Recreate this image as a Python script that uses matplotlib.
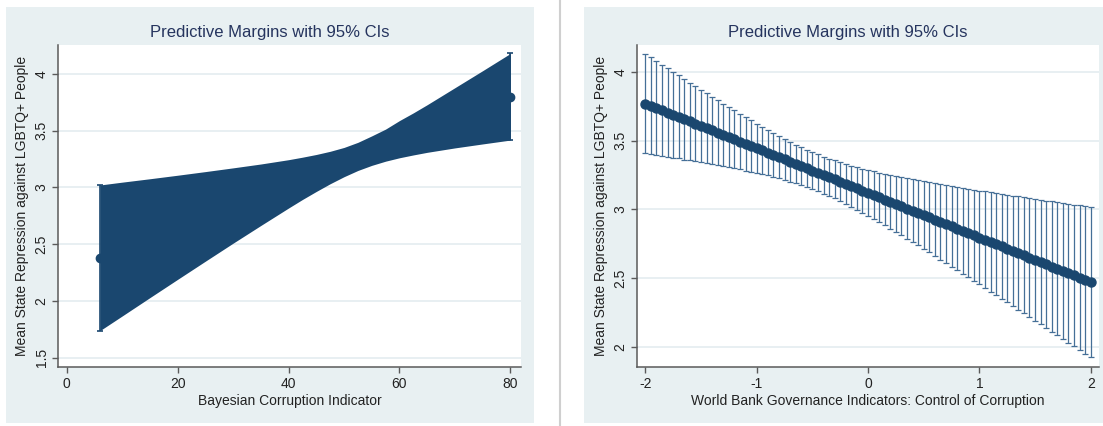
import matplotlib
matplotlib.use("Agg")
import matplotlib.pyplot as plt
from matplotlib.patches import Rectangle
from matplotlib.lines import Line2D

plt.rcParams['font.family'] = ['Liberation Sans', 'DejaVu Sans']
plt.rcParams['axes.unicode_minus'] = False

# ---------------- data ----------------
# Left panel: Bayesian Corruption Indicator
bci_x = [6, 10, 15, 20, 25, 30, 35, 40, 42.5, 45, 47.5, 50, 52.5, 55, 57.5, 60,
         62.5, 65, 70, 75, 80]
bci_margin = [2.380, 2.457, 2.553, 2.649, 2.745, 2.841, 2.936, 3.032, 3.080, 3.128,
              3.176, 3.224, 3.272, 3.320, 3.368, 3.416, 3.464, 3.512, 3.608, 3.704, 3.800]
bci_lower = [1.738, 1.867, 2.029, 2.190, 2.350, 2.509, 2.665, 2.819, 2.894, 2.965,
             3.033, 3.095, 3.150, 3.195, 3.232, 3.262, 3.287, 3.310, 3.349, 3.384, 3.418]
bci_upper = [3.022, 3.047, 3.077, 3.108, 3.140, 3.173, 3.207, 3.245, 3.267, 3.291,
             3.319, 3.353, 3.398, 3.455, 3.515, 3.590, 3.658, 3.730, 3.880, 4.030, 4.182]

# Right panel: WGI Control of Corruption
wgi_x = [-2.00, -1.95, -1.90, -1.85, -1.80, -1.75, -1.70, -1.65, -1.60, -1.55,
         -1.50, -1.45, -1.40, -1.35, -1.30, -1.25, -1.20, -1.15, -1.10, -1.05,
         -1.00, -0.95, -0.90, -0.85, -0.80, -0.75, -0.70, -0.65, -0.60, -0.55,
         -0.50, -0.45, -0.40, -0.35, -0.30, -0.25, -0.20, -0.15, -0.10, -0.05,
         0.00, 0.05, 0.10, 0.15, 0.20, 0.25, 0.30, 0.35, 0.40, 0.45,
         0.50, 0.55, 0.60, 0.65, 0.70, 0.75, 0.80, 0.85, 0.90, 0.95,
         1.00, 1.05, 1.10, 1.15, 1.20, 1.25, 1.30, 1.35, 1.40, 1.45,
         1.50, 1.55, 1.60, 1.65, 1.70, 1.75, 1.80, 1.85, 1.90, 1.95, 2.00]
wgi_margin = [3.770, 3.754, 3.738, 3.721, 3.705, 3.689, 3.673, 3.656, 3.640, 3.624,
              3.608, 3.591, 3.575, 3.559, 3.543, 3.526, 3.510, 3.494, 3.478, 3.461,
              3.445, 3.429, 3.413, 3.396, 3.380, 3.364, 3.348, 3.331, 3.315, 3.299,
              3.283, 3.266, 3.250, 3.234, 3.218, 3.201, 3.185, 3.169, 3.153, 3.136,
              3.120, 3.104, 3.088, 3.071, 3.055, 3.039, 3.023, 3.006, 2.990, 2.974,
              2.958, 2.941, 2.925, 2.909, 2.893, 2.876, 2.860, 2.844, 2.828, 2.811,
              2.795, 2.779, 2.763, 2.746, 2.730, 2.714, 2.698, 2.681, 2.665, 2.649,
              2.633, 2.616, 2.600, 2.584, 2.568, 2.551, 2.535, 2.519, 2.503, 2.486, 2.470]
wgi_halfwidth = [0.362, 0.352, 0.342, 0.332, 0.322, 0.312, 0.302, 0.293, 0.283, 0.274,
                 0.264, 0.255, 0.246, 0.237, 0.228, 0.219, 0.211, 0.203, 0.195, 0.187,
                 0.180, 0.173, 0.166, 0.160, 0.154, 0.149, 0.145, 0.141, 0.138, 0.136,
                 0.135, 0.134, 0.135, 0.136, 0.138, 0.141, 0.145, 0.149, 0.154, 0.160,
                 0.166, 0.173, 0.180, 0.187, 0.195, 0.203, 0.211, 0.219, 0.228, 0.237,
                 0.246, 0.255, 0.264, 0.274, 0.283, 0.293, 0.302, 0.312, 0.322, 0.332,
                 0.342, 0.352, 0.362, 0.372, 0.382, 0.392, 0.402, 0.413, 0.423, 0.433,
                 0.444, 0.454, 0.464, 0.475, 0.485, 0.496, 0.506, 0.516, 0.527, 0.537, 0.548]

left_xticks = [0, 20, 40, 60, 80]
left_yticks = [1.5, 2, 2.5, 3, 3.5, 4]
left_yticklabels = ['1.5', '2', '2.5', '3', '3.5', '4']
right_xticks = [-2, -1, 0, 1, 2]
right_xticklabels = ['-2', '-1', '0', '1', '2']
right_yticks = [2, 2.5, 3, 3.5, 4]
right_yticklabels = ['2', '2.5', '3', '3.5', '4']

title_text = 'Predictive Margins with 95% CIs'
ylabel_text = 'Mean State Repression against LGBTQ+ People'
left_xlabel = 'Bayesian Corruption Indicator'
right_xlabel = 'World Bank Governance Indicators: Control of Corruption'

# ---------------- style ----------------
W, H = 1103, 426
navy = '#1a476f'
bg = '#e8f0f2'
grid_c = '#e6eef1'
spine_c = '#5a5a5a'
text_c = '#222222'
title_c = '#25345e'

fig = plt.figure(figsize=(W / 100, H / 100), dpi=100)
fig.patch.set_facecolor('white')


def fx(px):
    return px / W


def fy(py):
    return 1 - py / H


# graph region backgrounds (drawn beneath the axes)
fig.patches.append(Rectangle((fx(6), fy(423)), fx(534) - fx(6), fy(7.3) - fy(423),
                             transform=fig.transFigure, facecolor=bg, edgecolor='none', zorder=-5))
fig.patches.append(Rectangle((fx(584), fy(423)), fx(1103) - fx(584), fy(7.3) - fy(423),
                             transform=fig.transFigure, facecolor=bg, edgecolor='none', zorder=-5))
fig.lines.append(Line2D([fx(559.5), fx(559.5)], [0, 1], transform=fig.transFigure,
                        color='#cfcfcf', lw=1.5, zorder=-5))


def make_axes(x0, x1):
    ax = fig.add_axes([fx(x0), fy(367.3), fx(x1) - fx(x0), fy(45) - fy(367.3)])
    ax.set_zorder(1)
    ax.set_facecolor('white')
    for s in ('top', 'right'):
        ax.spines[s].set_visible(False)
    for s in ('left', 'bottom'):
        ax.spines[s].set_color(spine_c)
        ax.spines[s].set_linewidth(1.1)
    ax.tick_params(direction='out', length=4, width=1, color=spine_c,
                   labelsize=10, labelcolor=text_c, pad=3)
    ax.yaxis.grid(True, color=grid_c, lw=1.3)
    ax.set_axisbelow(True)
    return ax


# ---------------- left panel ----------------
axL = make_axes(58.3, 521)
axL.fill_between(bci_x, bci_lower, bci_upper, color=navy, lw=0, zorder=2)
ends = [0, len(bci_x) - 1]
axL.errorbar([bci_x[i] for i in ends], [bci_margin[i] for i in ends],
             yerr=[[bci_margin[i] - bci_lower[i] for i in ends],
                   [bci_upper[i] - bci_margin[i] for i in ends]],
             fmt='none', ecolor=navy, elinewidth=1.2, capsize=2.5, capthick=1.2, zorder=3)
axL.plot(bci_x, bci_margin, '-o', color=navy, ms=6, lw=2, zorder=4)
axL.set_xlim(-1.5, 81.9)
axL.set_ylim(1.415, 4.256)
axL.set_xticks(left_xticks)
axL.set_yticks(left_yticks)
axL.set_yticklabels(left_yticklabels, rotation=90, va='center')
axL.set_xlabel(left_xlabel, fontsize=10, color=text_c, labelpad=2)
axL.set_ylabel(ylabel_text, fontsize=10, color=text_c, labelpad=4)

# ---------------- right panel ----------------
axR = make_axes(637, 1099.3)
axR.errorbar(wgi_x, wgi_margin, yerr=wgi_halfwidth, fmt='none', ecolor='#456f97',
             elinewidth=0.9, capsize=2.2, capthick=0.9, zorder=2)
axR.plot(wgi_x, wgi_margin, '-o', color=navy, ms=6.5, lw=2.5, zorder=3)
axR.set_xlim(-2.075, 2.077)
axR.set_ylim(1.85, 4.197)
axR.set_xticks(right_xticks)
axR.set_xticklabels(right_xticklabels)
axR.set_yticks(right_yticks)
axR.set_yticklabels(right_yticklabels, rotation=90, va='center')
axR.set_xlabel(right_xlabel, fontsize=10, color=text_c, labelpad=2)
axR.set_ylabel(ylabel_text, fontsize=10, color=text_c, labelpad=4)

# titles (centered on graph regions)
fig.text(fx(270), fy(33), title_text, ha='center', va='center', fontsize=12, color=title_c)
fig.text(fx(848), fy(33), title_text, ha='center', va='center', fontsize=12, color=title_c)

fig.savefig('out.png', dpi=100)
